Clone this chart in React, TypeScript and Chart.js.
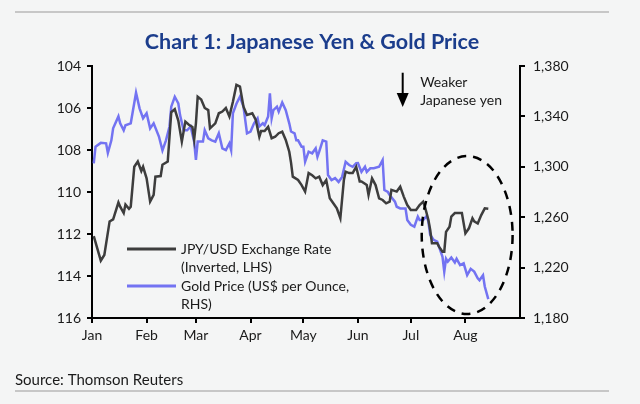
import React, { useEffect, useRef } from "react";
import { Chart, registerables } from "chart.js";

Chart.register(...registerables);

// ---- Data (day-of-year, 0 = Jan 1) ----
const MONTH_LABELS = ["Jan", "Feb", "Mar", "Apr", "May", "Jun", "Jul", "Aug"];
const MONTH_START_DAYS = [0, 31, 59, 90, 120, 151, 181, 212];
const X_MAX_DAY = 243;

const JPY_DAYS = [1, 5, 7, 10, 12, 15, 16, 18, 19, 21, 22, 24, 26, 28, 29, 31, 33, 35, 36, 39, 40, 43, 45, 47, 49, 51, 53, 55, 57, 58, 59, 60, 62, 64, 66, 67, 70, 72, 74, 76, 78, 80, 82, 84, 86, 88, 91, 93, 95, 96, 98, 100, 102, 104, 106, 108, 110, 112, 113, 114, 117, 119, 121, 123, 125, 127, 129, 131, 133, 135, 137, 139, 141, 143, 144, 146, 148, 149, 150, 152, 153, 156, 157, 159, 161, 163, 165, 167, 169, 170, 173, 175, 177, 179, 181, 184, 186, 188, 189, 191, 192, 193, 196, 197, 199, 200, 201, 203, 204, 206, 208, 210, 212, 214, 216, 217, 219, 221, 223, 225];
const JPY_VALUES = [112.1, 113.27, 113.0, 111.4, 111.3, 110.5, 110.7, 111.0, 110.6, 110.8, 110.7, 108.8, 108.55, 109.0, 108.8, 109.35, 110.46, 110.14, 109.27, 109.24, 108.7, 108.55, 106.2, 106.06, 106.6, 107.6, 106.65, 106.8, 106.9, 107.5, 106.73, 105.46, 105.6, 106.0, 106.1, 106.97, 106.73, 106.25, 106.17, 106.0, 106.4, 105.7, 104.9, 104.98, 105.94, 106.33, 106.25, 106.57, 107.37, 107.1, 107.1, 106.9, 107.44, 107.37, 107.2, 107.13, 107.52, 108.08, 108.6, 109.27, 109.43, 109.67, 109.98, 109.1, 109.2, 109.35, 109.27, 109.67, 109.43, 110.3, 110.54, 110.78, 111.25, 109.43, 109.03, 109.1, 109.1, 108.95, 108.8, 109.5, 109.5, 109.67, 110.14, 109.35, 109.67, 110.3, 110.38, 110.54, 110.46, 109.9, 109.98, 109.75, 110.22, 110.62, 110.86, 110.86, 110.62, 110.46, 110.7, 111.33, 111.8, 112.44, 112.44, 112.6, 112.84, 112.84, 111.9, 111.65, 111.17, 111.0, 111.0, 111.0, 111.97, 111.73, 111.25, 111.4, 111.5, 111.1, 110.78, 110.8];

const GOLD_DAYS = [1, 2, 5, 8, 9, 11, 12, 15, 16, 18, 19, 22, 25, 27, 29, 31, 33, 35, 38, 40, 42, 44, 45, 47, 49, 50, 52, 54, 56, 58, 59, 60, 63, 64, 66, 68, 70, 72, 74, 76, 78, 79, 80, 82, 84, 86, 88, 90, 92, 94, 95, 97, 98, 100, 101, 102, 103, 105, 106, 108, 110, 112, 113, 115, 116, 117, 119, 120, 121, 123, 125, 127, 128, 129, 131, 133, 134, 136, 138, 140, 142, 144, 146, 148, 150, 151, 153, 155, 156, 158, 160, 163, 165, 166, 168, 169, 172, 173, 175, 178, 179, 181, 183, 185, 186, 188, 190, 191, 192, 194, 196, 197, 199, 200, 201, 202, 204, 206, 207, 209, 211, 213, 215, 217, 219, 220, 222, 223, 225];
const GOLD_VALUES = [1302.8, 1316, 1319, 1318.6, 1311, 1321, 1330.5, 1340, 1334.5, 1329, 1333, 1334.5, 1358.8, 1346.4, 1338.5, 1342.5, 1330.5, 1334.5, 1324, 1313, 1321, 1332, 1347.7, 1355.6, 1350.4, 1341, 1329, 1329, 1332, 1320, 1305.4, 1320, 1320, 1329, 1322.6, 1321, 1320, 1326.6, 1314.7, 1313.3, 1318.6, 1313.3, 1342.5, 1350, 1355.6, 1347.7, 1326.6, 1328, 1334.5, 1338.5, 1332, 1334.5, 1333, 1340, 1358.3, 1338.5, 1345, 1347.7, 1343.7, 1351, 1345, 1334.5, 1328, 1326.6, 1321, 1321, 1316, 1316, 1304, 1312, 1310.7, 1314.7, 1308, 1312, 1321, 1320, 1293.5, 1289.5, 1291, 1288, 1292, 1304, 1301.4, 1300, 1302.8, 1303, 1296, 1300, 1296, 1298.8, 1298.8, 1300, 1305.4, 1281.6, 1280, 1277.6, 1272.3, 1268.3, 1267, 1267, 1257.8, 1254, 1252.5, 1260.4, 1257.8, 1257.8, 1261, 1256.4, 1246, 1242, 1240.6, 1236.6, 1228.6, 1216.8, 1227, 1224.7, 1228, 1224, 1227, 1222, 1223.4, 1214, 1219, 1216.8, 1211.5, 1210, 1214, 1205, 1195];

const LEFT_TICKS = [104, 106, 108, 110, 112, 114, 116];
const RIGHT_TICKS = [1180, 1220, 1260, 1300, 1340, 1380];

const TITLE = "Chart 1: Japanese Yen & Gold Price";
const SOURCE = "Source: Thomson Reuters";
const LEGEND_JPY = ["JPY/USD Exchange Rate", "(Inverted, LHS)"];
const LEGEND_GOLD = ["Gold Price (US$ per Ounce,", "RHS)"];
const ANNOT_TEXT = ["Weaker", "Japanese yen"];

// annotation anchors in data units (x: day, y: LHS value)
const ARROW = { day: 176.4, from: 104.32, to: 105.95 };
const ANNOT_POS = { day: 186.3, y1: 104.8, y2: 105.66 };
const ELLIPSE = { day: 213, value: 112.05, rDays: 25.8, rValue: 3.76 };

const FONT = "Lato, 'Open Sans', sans-serif";
const BLACK_LINE = "#3d3d3d";
const BLUE_LINE = "#7373f2";

const decorPlugin = {
  id: "decor",
  beforeDraw(chart: any) {
    const { ctx } = chart;
    ctx.save();
    ctx.fillStyle = "#f4f5f5";
    ctx.fillRect(0, 0, chart.width, chart.height);
    ctx.strokeStyle = "#b8b8b8";
    ctx.lineWidth = 1.5;
    ctx.beginPath();
    ctx.moveTo(15, 12);
    ctx.lineTo(609, 12);
    ctx.moveTo(15, 391);
    ctx.lineTo(609, 391);
    ctx.stroke();
    ctx.fillStyle = "#1b3d8c";
    ctx.font = `bold 21.5px ${FONT}`;
    ctx.textAlign = "center";
    ctx.textBaseline = "middle";
    ctx.fillText(TITLE, 312, 42);
    ctx.fillStyle = "#1a1a1a";
    ctx.font = `15px ${FONT}`;
    ctx.textAlign = "left";
    ctx.fillText(SOURCE, 15, 380);
    ctx.restore();
  },
  afterDatasetsDraw(chart: any) {
    const { ctx, chartArea } = chart;
    const xs = chart.scales.x;
    const yl = chart.scales.yL;
    ctx.save();
    // legend
    const lx = chartArea.left + 35;
    const ly = chartArea.top + 183;
    ctx.lineWidth = 3;
    ctx.strokeStyle = BLACK_LINE;
    ctx.beginPath();
    ctx.moveTo(lx, ly);
    ctx.lineTo(lx + 49, ly);
    ctx.stroke();
    ctx.strokeStyle = BLUE_LINE;
    ctx.beginPath();
    ctx.moveTo(lx, ly + 37);
    ctx.lineTo(lx + 49, ly + 37);
    ctx.stroke();
    ctx.fillStyle = "#1a1a1a";
    ctx.font = `14px ${FONT}`;
    ctx.textAlign = "left";
    ctx.textBaseline = "middle";
    ctx.fillText(LEGEND_JPY[0], lx + 54, ly);
    ctx.fillText(LEGEND_JPY[1], lx + 54, ly + 18);
    ctx.fillText(LEGEND_GOLD[0], lx + 54, ly + 37);
    ctx.fillText(LEGEND_GOLD[1], lx + 54, ly + 55);

    // arrow
    const ax = xs.getPixelForValue(ARROW.day);
    const ay1 = yl.getPixelForValue(ARROW.from);
    const ay2 = yl.getPixelForValue(ARROW.to);
    ctx.strokeStyle = "#000";
    ctx.fillStyle = "#000";
    ctx.lineWidth = 2;
    ctx.beginPath();
    ctx.moveTo(ax, ay1);
    ctx.lineTo(ax, ay2 - 10);
    ctx.stroke();
    ctx.beginPath();
    ctx.moveTo(ax - 6, ay2 - 14);
    ctx.lineTo(ax + 6, ay2 - 14);
    ctx.lineTo(ax, ay2);
    ctx.closePath();
    ctx.fill();
    ctx.fillStyle = "#1a1a1a";
    ctx.font = `14px ${FONT}`;
    const tx = xs.getPixelForValue(ANNOT_POS.day);
    ctx.fillText(ANNOT_TEXT[0], tx, yl.getPixelForValue(ANNOT_POS.y1));
    ctx.fillText(ANNOT_TEXT[1], tx, yl.getPixelForValue(ANNOT_POS.y2));

    // dashed ellipse
    const cx = xs.getPixelForValue(ELLIPSE.day);
    const cy = yl.getPixelForValue(ELLIPSE.value);
    const rx = xs.getPixelForValue(ELLIPSE.day + ELLIPSE.rDays) - cx;
    const ry = yl.getPixelForValue(ELLIPSE.value + ELLIPSE.rValue) - cy;
    ctx.setLineDash([9, 7]);
    ctx.lineWidth = 2.5;
    ctx.strokeStyle = "#000";
    ctx.beginPath();
    ctx.ellipse(cx, cy, Math.abs(rx), Math.abs(ry), 0, 0, Math.PI * 2);
    ctx.stroke();
    ctx.restore();
  },
};

export default function App() {
  const ref = useRef<HTMLCanvasElement | null>(null);
  useEffect(() => {
    if (!ref.current) return;
    const tickFont = { family: FONT, size: 14 };
    const chart = new Chart(ref.current, {
      type: "line",
      data: {
        datasets: [
          {
            label: "JPY/USD Exchange Rate (Inverted, LHS)",
            data: JPY_DAYS.map((d, i) => ({ x: d, y: JPY_VALUES[i] })),
            borderColor: BLACK_LINE,
            borderWidth: 2.5,
            pointRadius: 0,
            tension: 0,
            yAxisID: "yL",
          },
          {
            label: "Gold Price (US$ per Ounce, RHS)",
            data: GOLD_DAYS.map((d, i) => ({ x: d, y: GOLD_VALUES[i] })),
            borderColor: BLUE_LINE,
            borderWidth: 2.5,
            pointRadius: 0,
            tension: 0,
            yAxisID: "yR",
          },
        ],
      },
      options: {
        animation: false,
        responsive: false,
        layout: { padding: { top: 66, left: 0, right: 0, bottom: 0 } },
        plugins: { legend: { display: false }, title: { display: false }, tooltip: { enabled: false } },
        scales: {
          x: {
            type: "linear",
            min: 0,
            max: X_MAX_DAY,
            afterBuildTicks: (s: any) => {
              s.ticks = MONTH_START_DAYS.map((v) => ({ value: v }));
            },
            afterFit: (s: any) => {
              s.height = 86;
            },
            ticks: {
              autoSkip: false,
              maxRotation: 0,
              padding: 4,
              color: "#1a1a1a",
              font: tickFont,
              callback: (v: any) => MONTH_LABELS[MONTH_START_DAYS.indexOf(Number(v))] ?? "",
            },
            grid: { drawOnChartArea: false, drawTicks: true, tickLength: 5, color: "#000", lineWidth: 2 },
            border: { display: true, color: "#000", width: 2 },
          },
          yL: {
            position: "left",
            reverse: true,
            min: 104,
            max: 116,
            afterBuildTicks: (s: any) => {
              s.ticks = LEFT_TICKS.map((v) => ({ value: v }));
            },
            afterFit: (s: any) => {
              s.width = 92;
            },
            ticks: { color: "#1a1a1a", font: tickFont, padding: 6 },
            grid: { drawOnChartArea: false, drawTicks: true, tickLength: 5, color: "#000", lineWidth: 2 },
            border: { display: true, color: "#000", width: 2 },
          },
          yR: {
            position: "right",
            min: 1180,
            max: 1380,
            afterBuildTicks: (s: any) => {
              s.ticks = RIGHT_TICKS.map((v) => ({ value: v }));
            },
            afterFit: (s: any) => {
              s.width = 120;
            },
            ticks: {
              color: "#1a1a1a",
              font: tickFont,
              padding: 8,
              callback: (v: any) => Number(v).toLocaleString("en-US"),
            },
            grid: { drawOnChartArea: false, drawTicks: true, tickLength: 5, color: "#000", lineWidth: 2 },
            border: { display: true, color: "#000", width: 2 },
          },
        },
      },
      plugins: [decorPlugin],
    } as any);
    return () => chart.destroy();
  }, []);
  return (
    <div style={{ position: "absolute", left: 0, top: 0, width: 640, height: 404, background: "#f4f5f5" }}>
      <canvas ref={ref} width={640} height={404} />
    </div>
  );
}
